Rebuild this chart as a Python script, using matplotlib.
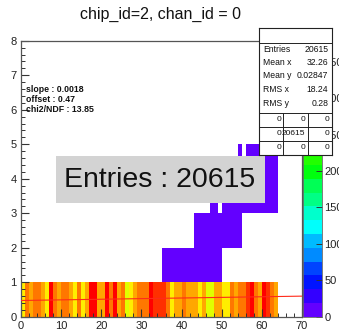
import colorsys

import numpy as np
import matplotlib
matplotlib.use("Agg")
import matplotlib.pyplot as plt
from matplotlib.colors import ListedColormap, BoundaryNorm
from matplotlib.patches import Rectangle
from matplotlib.ticker import MultipleLocator

plt.rcParams['font.family'] = ['Liberation Sans', 'DejaVu Sans']

# ---------------------------------------------------------------- data
title = "chip_id=2, chan_id = 0"
x_edges = np.arange(0, 71)   # channel bins
y_edges = np.arange(0, 9)    # value bins

# counts in the lowest value bin, channels 0..63
row0_counts = [
    292, 330, 312, 330, 330, 312, 292, 370, 330, 312,
    330, 330, 312, 292, 330, 292, 312, 370, 379, 312,
    312, 370, 330, 370, 312, 330, 274, 292, 312, 330,
    330, 330, 370, 350, 350, 350, 330, 292, 312, 312,
    330, 312, 312, 312, 292, 312, 274, 274, 312, 312,
    292, 292, 330, 312, 330, 330, 350, 370, 330, 312,
    370, 350, 330, 312,
]
# sparsely populated higher value bins: value bin -> channel ranges [first, stop)
tail_rows = {
    1: [(35, 50)],
    2: [(43, 55)],
    3: [(47, 49), (50, 64)],
    4: [(54, 55), (56, 64)],
}
tail_count = 4

fit_slope = 0.0018
fit_offset = 0.47
fit_chi2_ndf = 13.85
entries = 20615

stats_labels = ["Entries", "Mean x", "Mean y", "RMS x", "RMS y"]
stats_values = ["20615", "32.26", "0.02847", "18.24", "0.28"]
overflow_grid = [["0", "0", "0"],
                 ["0", "20615", "0"],
                 ["0", "0", "0"]]

# ---------------------------------------------------------------- histogram
H = np.zeros((len(y_edges) - 1, len(x_edges) - 1))
H[0, :len(row0_counts)] = row0_counts
for yb, ranges in tail_rows.items():
    for a, b in ranges:
        H[yb, a:b] = tail_count

# ROOT "pretty" palette (50 colours) sampled on 20 contour levels
n_pal, n_levels = 50, 20


def pretty_colour(i):
    hue = 280.0 - (i + 1) * (280.0 / n_pal)
    return colorsys.hls_to_rgb(hue / 360.0, 0.5, 1.0)


level_colours = [pretty_colour(int((j + 0.99) * n_pal / n_levels)) for j in range(n_levels)]
cmap = ListedColormap(level_colours)
zmax = H.max()
bounds = np.linspace(0, zmax, n_levels + 1)
norm = BoundaryNorm(bounds, n_levels)

# ---------------------------------------------------------------- figure
W, Hpx = 339, 330
fig = plt.figure(figsize=(W / 100, Hpx / 100), dpi=100)
fig.patch.set_facecolor("white")


def fx(px):
    return px / W


def fy(py):
    return 1 - py / Hpx


ax_l, ax_r, ax_t, ax_b = 21.0, 302.0, 40.7, 316.7
ax = fig.add_axes([fx(ax_l), fy(ax_b), (ax_r - ax_l) / W, (ax_b - ax_t) / Hpx])
mesh = ax.pcolormesh(x_edges, y_edges, np.ma.masked_equal(H, 0),
                     cmap=cmap, norm=norm, edgecolors="none")

xf = np.array([0, 70])
ax.plot(xf, fit_offset + fit_slope * xf, color="#ff2a1a", lw=0.8, zorder=3)

ax.set_xlim(0, 70)
ax.set_ylim(0, 8)
ax.xaxis.set_major_locator(MultipleLocator(10))
ax.xaxis.set_minor_locator(MultipleLocator(2))
ax.yaxis.set_major_locator(MultipleLocator(1))
ax.yaxis.set_minor_locator(MultipleLocator(0.2))
ax.tick_params(which="both", direction="in", top=False, right=False,
               colors="#333333", labelcolor="#222222", labelsize=8, pad=3)
ax.tick_params(which="major", length=6, width=0.8)
ax.tick_params(which="minor", length=3, width=0.7)
for s in ax.spines.values():
    s.set_color("#555555")
    s.set_linewidth(0.9)

fig.text(fx(160), fy(14), title, ha="center", va="center", fontsize=11.5, color="#111111")

fit_lines = [f"slope : {fit_slope}", f"offset : {fit_offset}", f"chi2/NDF : {fit_chi2_ndf}"]
for i, line in enumerate(fit_lines):
    fig.text(fx(26), fy(89.5 + 10 * i), line, ha="left", va="center",
             fontsize=6.3, fontweight="bold", color="#111111")

# entries banner
fig.add_artist(Rectangle((fx(56), fy(203)), (265 - 56) / W, (203 - 156) / Hpx,
                         transform=fig.transFigure, facecolor="#d3d3d3",
                         edgecolor="none", zorder=4))
fig.text(fx(160), fy(180), f"Entries : {entries}", ha="center", va="center",
         fontsize=20.5, color="#111111", zorder=5)

# colour scale
cax = fig.add_axes([fx(303.3), fy(ax_b), 18.4 / W, (ax_b - ax_t) / Hpx])
cb = fig.colorbar(mesh, cax=cax, spacing="proportional", ticks=np.arange(0, 400, 50))
cb.outline.set_edgecolor("#666666")
cb.outline.set_linewidth(0.6)
cax.tick_params(direction="in", length=4, width=0.7, colors="#333333",
                labelcolor="#222222", labelsize=8, pad=2)
cax.minorticks_off()

# statistics box
sl, sr, st, sb = 259.3, 331.7, 28.3, 155.0
sax = fig.add_axes([fx(sl), fy(sb), (sr - sl) / W, (sb - st) / Hpx])
sax.set_zorder(10)
sax.set_xlim(0, 1)
sax.set_ylim(0, 1)
sax.set_xticks([])
sax.set_yticks([])
sax.set_facecolor("white")
for s in sax.spines.values():
    s.set_color("#222222")
    s.set_linewidth(0.8)


def sy(py):
    return (sb - py) / (sb - st)


sax.axhline(sy(43.3), color="#222222", lw=0.7)
sax.axhline(sy(112.7), color="#222222", lw=0.7)
grid_rows = np.linspace(112.7, sb, 4)
for g in grid_rows[1:-1]:
    sax.axhline(sy(g), color="#222222", lw=0.7)
for v in (1 / 3, 2 / 3):
    sax.plot([v, v], [0, sy(112.7)], color="#222222", lw=0.7)

row_y = [50, 62.5, 76, 90, 104]
for lab, val, py in zip(stats_labels, stats_values, row_y):
    sax.text(0.05, sy(py), lab, ha="left", va="center", fontsize=6.2, color="#111111")
    sax.text(0.95, sy(py), val, ha="right", va="center", fontsize=6.2, color="#111111")

for r, row in enumerate(overflow_grid):
    yc = (grid_rows[r] + grid_rows[r + 1]) / 2
    for c, val in enumerate(row):
        sax.text((c + 1) / 3 - 0.03, sy(yc), val, ha="right", va="center",
                 fontsize=6.0, color="#111111")

fig.savefig("out.png", dpi=100, facecolor="white")
